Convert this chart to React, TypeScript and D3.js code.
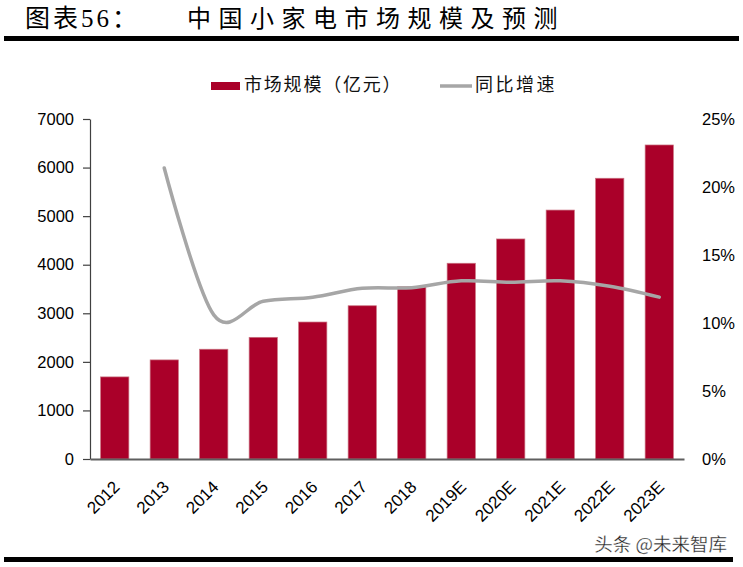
import { useRef, useEffect } from 'react';
import * as d3 from 'd3';

const years = ['2012', '2013', '2014', '2015', '2016', '2017', '2018', '2019E', '2020E', '2021E', '2022E', '2023E'];
const marketSize = [1690, 2040, 2260, 2505, 2820, 3155, 3545, 4030, 4530, 5125, 5780, 6465];
const growth: (number | null)[] = [null, 21.4, 10.6, 11.6, 11.9, 12.55, 12.6, 13.1, 13.0, 13.1, 12.7, 11.9];
const leftTicks = [0, 1000, 2000, 3000, 4000, 5000, 6000, 7000];
const rightTicks = [0, 5, 10, 15, 20, 25];

const BAR = '#AA0029';
const LINE = '#A6A6A6';
const NUM_FONT = '"Liberation Sans", Arial, sans-serif';
const CJK_FONT = '"Noto Sans CJK SC", sans-serif';

export default function App(): JSX.Element {
  const svgRef = useRef<SVGSVGElement | null>(null);
  const width = 743;
  const height = 567;

  useEffect(() => {
    if (!svgRef.current) return;
    const svg = d3.select(svgRef.current);
    svg.selectAll('*').remove();

    const left = 90;
    const right = 684;
    const top = 119;
    const bottom = 459;

    const x = d3.scaleBand<string>()
      .domain(years)
      .range([left, right])
      .paddingInner(0.43)
      .paddingOuter(0.215);
    const yL = d3.scaleLinear().domain([0, 7000]).range([bottom, top]);
    const yR = d3.scaleLinear().domain([0, 25]).range([bottom, top]);

    // title + rule
    svg.append('text')
      .attr('x', 25).attr('y', 27)
      .attr('font-family', `"Liberation Serif", "Noto Sans CJK SC", serif`)
      .attr('font-size', 25)
      .attr('letter-spacing', 3)
      .text('图表56：');
    svg.append('text')
      .attr('x', 187).attr('y', 27)
      .attr('font-family', `"Liberation Serif", "Noto Sans CJK SC", serif`)
      .attr('font-size', 24)
      .attr('letter-spacing', 7.5)
      .text('中国小家电市场规模及预测');
    svg.append('rect')
      .attr('x', 4).attr('y', 36).attr('width', 735).attr('height', 5)
      .attr('fill', '#000');

    // legend
    svg.append('rect')
      .attr('x', 211).attr('y', 82).attr('width', 29).attr('height', 8)
      .attr('fill', BAR);
    svg.append('text')
      .attr('x', 244).attr('y', 91)
      .attr('font-family', CJK_FONT).attr('font-size', 18)
      .attr('letter-spacing', 1.8).attr('fill', '#111')
      .text('市场规模（亿元）');
    svg.append('line')
      .attr('x1', 440).attr('x2', 472).attr('y1', 86).attr('y2', 86)
      .attr('stroke', LINE).attr('stroke-width', 3.5);
    svg.append('text')
      .attr('x', 475).attr('y', 91)
      .attr('font-family', CJK_FONT).attr('font-size', 18)
      .attr('letter-spacing', 2.5).attr('fill', '#111')
      .text('同比增速');

    // bars
    svg.append('g')
      .selectAll('rect')
      .data(years)
      .join('rect')
      .attr('x', d => x(d) ?? 0)
      .attr('y', (d, i) => yL(marketSize[i]))
      .attr('width', x.bandwidth())
      .attr('height', (d, i) => bottom - yL(marketSize[i]))
      .attr('fill', BAR)
      .attr('stroke', '#C9707F')
      .attr('stroke-width', 0.7);

    // left axis
    const gL = svg.append('g')
      .attr('transform', `translate(${left},0)`)
      .call(d3.axisLeft(yL).tickValues(leftTicks).tickSize(7).tickSizeOuter(0).tickPadding(9).tickFormat(d3.format('d')));
    gL.select('.domain').attr('stroke', '#404040').attr('stroke-width', 1.2);
    gL.selectAll('.tick line').attr('stroke', '#404040').attr('stroke-width', 1.2);
    gL.selectAll('.tick text')
      .attr('font-family', NUM_FONT).attr('font-size', 16.5).attr('fill', '#000');

    // right axis
    const gR = svg.append('g')
      .attr('transform', `translate(${right},0)`)
      .call(d3.axisRight(yR).tickValues(rightTicks).tickSize(0).tickPadding(18).tickFormat(d => `${d}%`));
    gR.select('.domain').remove();
    gR.selectAll('.tick text')
      .attr('font-family', NUM_FONT).attr('font-size', 16.5).attr('fill', '#000');

    // bottom axis
    const gB = svg.append('g')
      .attr('transform', `translate(0,${bottom})`)
      .call(d3.axisBottom(x).tickSize(0).tickPadding(0));
    gB.select('.domain').attr('stroke', '#5F5F5F').attr('stroke-width', 1.8);
    gB.selectAll('.tick text')
      .attr('font-family', NUM_FONT).attr('font-size', 17)
      .attr('fill', '#000')
      .attr('text-anchor', 'end')
      .attr('dy', 0)
      .attr('transform', 'translate(6,29) rotate(-45)');

    // growth line
    const pts = years
      .map((d, i) => ({ d, v: growth[i] }))
      .filter(p => p.v !== null) as { d: string; v: number }[];
    const line = d3.line<{ d: string; v: number }>()
      .x(p => (x(p.d) ?? 0) + x.bandwidth() / 2)
      .y(p => yR(p.v))
      .curve(d3.curveCatmullRom.alpha(0));
    svg.append('path')
      .datum(pts)
      .attr('d', line)
      .attr('fill', 'none')
      .attr('stroke', LINE)
      .attr('stroke-width', 3.5)
      .attr('stroke-linecap', 'round');

    // watermark + bottom rule
    svg.append('text')
      .attr('x', 727).attr('y', 551)
      .attr('text-anchor', 'end')
      .attr('font-family', CJK_FONT).attr('font-size', 18.5)
      .attr('fill', '#222')
      .attr('stroke', '#fff').attr('stroke-width', 0.3)
      .text('头条 @未来智库');
    svg.append('rect')
      .attr('x', 4).attr('y', 557).attr('width', 729).attr('height', 5)
      .attr('fill', '#000');
  }, []);

  return (
    <svg
      ref={svgRef}
      width={width}
      height={height}
      style={{ position: 'absolute', left: 0, top: 0, background: '#fff' }}
    />
  );
}
